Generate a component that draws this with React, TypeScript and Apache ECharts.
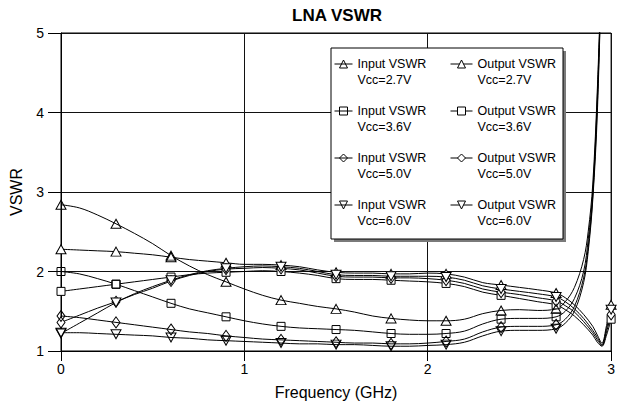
import React, { useEffect, useRef } from "react";
import * as echarts from "echarts";

const TITLE = "LNA VSWR";
const X_NAME = "Frequency (GHz)";
const Y_NAME = "VSWR";

const FREQ_IN = [
  0, 0.1, 0.2, 0.3, 0.4, 0.5, 0.6, 0.7, 0.8, 0.9, 1.0, 1.1, 1.2, 1.3, 1.4, 1.5, 1.6, 1.7, 1.8, 1.9,
  2.0, 2.1, 2.2, 2.3, 2.4, 2.5, 2.6, 2.7, 2.75, 2.8, 2.85, 2.875, 2.9, 2.925, 2.95,
];
const FREQ_OUT = [
  0, 0.1, 0.2, 0.3, 0.4, 0.5, 0.6, 0.7, 0.8, 0.9, 1.0, 1.1, 1.2, 1.3, 1.4, 1.5, 1.6, 1.7, 1.8, 1.9,
  2.0, 2.1, 2.2, 2.3, 2.4, 2.5, 2.6, 2.7, 2.75, 2.8, 2.85, 2.9, 2.925, 2.95, 2.975, 3.0,
];

const IN_27 = [
  2.84, 2.8, 2.71, 2.6, 2.48, 2.35, 2.2, 2.07, 1.96, 1.87, 1.78, 1.7, 1.64, 1.6, 1.56, 1.53, 1.49, 1.44, 1.41, 1.39,
  1.38, 1.38, 1.4, 1.47, 1.51, 1.52, 1.51, 1.53, 1.62, 1.8, 2.15, 2.5, 3.1, 4.3, 6.0,
];
const IN_36 = [
  2.0, 1.97, 1.91, 1.84, 1.76, 1.68, 1.6, 1.53, 1.48, 1.43, 1.38, 1.34, 1.31, 1.29, 1.28, 1.27, 1.26, 1.24, 1.22, 1.21,
  1.21, 1.22, 1.25, 1.34, 1.4, 1.41, 1.41, 1.43, 1.5, 1.66, 2.0, 2.4, 3.0, 4.2, 6.0,
];
const IN_50 = [
  1.44, 1.42, 1.39, 1.36, 1.33, 1.3, 1.27, 1.24, 1.22, 1.19, 1.17, 1.15, 1.14, 1.13, 1.12, 1.11, 1.1, 1.1, 1.09, 1.09,
  1.1, 1.12, 1.15, 1.24, 1.3, 1.31, 1.31, 1.33, 1.4, 1.56, 1.92, 2.3, 2.95, 4.1, 6.0,
];
const IN_60 = [
  1.23, 1.23, 1.22, 1.21, 1.2, 1.19, 1.17, 1.16, 1.14, 1.13, 1.12, 1.11, 1.1, 1.09, 1.09, 1.08, 1.08, 1.07, 1.06, 1.06,
  1.07, 1.08, 1.11, 1.19, 1.25, 1.26, 1.26, 1.28, 1.35, 1.5, 1.86, 2.25, 2.9, 4.0, 6.0,
];

const OUT_27 = [
  2.28, 2.27, 2.26, 2.25, 2.23, 2.21, 2.18, 2.15, 2.13, 2.11, 2.09, 2.09, 2.08, 2.06, 2.02, 1.99, 1.98, 1.98, 1.97, 1.97,
  1.98, 1.97, 1.93, 1.86, 1.83, 1.8, 1.77, 1.73, 1.67, 1.58, 1.46, 1.31, 1.2, 1.1, 1.32, 1.58,
];
const OUT_36 = [
  1.75, 1.78, 1.81, 1.84, 1.87, 1.9, 1.93, 1.96, 1.98, 1.99, 2.0, 2.01, 2.0, 1.98, 1.95, 1.91, 1.9, 1.9, 1.89, 1.88,
  1.87, 1.85, 1.81, 1.74, 1.7, 1.66, 1.62, 1.58, 1.52, 1.44, 1.33, 1.2, 1.11, 1.06, 1.2, 1.4,
];
const OUT_50 = [
  1.36, 1.45, 1.54, 1.62, 1.71, 1.79, 1.88, 1.95, 2.0, 2.03, 2.04, 2.05, 2.04, 2.02, 1.98, 1.94, 1.93, 1.93, 1.92, 1.92,
  1.91, 1.89, 1.85, 1.78, 1.74, 1.71, 1.67, 1.63, 1.57, 1.49, 1.37, 1.23, 1.14, 1.07, 1.24, 1.46,
];
const OUT_60 = [
  1.22, 1.35, 1.48, 1.61, 1.72, 1.81, 1.89, 1.96, 2.01, 2.04, 2.06, 2.07, 2.06, 2.04, 2.0, 1.96, 1.95, 1.95, 1.94, 1.94,
  1.94, 1.93, 1.89, 1.82, 1.78, 1.75, 1.72, 1.68, 1.62, 1.53, 1.41, 1.26, 1.17, 1.08, 1.28, 1.52,
];

const INPUT_NAMES = [
  "Input VSWR\nVcc=2.7V",
  "Input VSWR\nVcc=3.6V",
  "Input VSWR\nVcc=5.0V",
  "Input VSWR\nVcc=6.0V",
];
const OUTPUT_NAMES = [
  "Output VSWR\nVcc=2.7V",
  "Output VSWR\nVcc=3.6V",
  "Output VSWR\nVcc=5.0V",
  "Output VSWR\nVcc=6.0V",
];

const FONT = "'Liberation Sans', Arial, Helvetica, sans-serif";

const SYMBOLS = ["triangle", "rect", "diamond", "triangle"];
const ROTATES = [0, 0, 0, 180];
const SIZES: any[] = [[10, 9], [8, 8], [8, 11], [10, 9]];

function isMarker(f: number) {
  const k = f / 0.3;
  return Math.abs(k - Math.round(k)) < 1e-6;
}

function buildData(freq: number[], vals: number[]) {
  return freq.map((f, i) =>
    isMarker(f) ? [f, vals[i]] : { value: [f, vals[i]], symbol: "none" }
  );
}

export default function App() {
  const ref = useRef<HTMLDivElement>(null);

  useEffect(() => {
    if (!ref.current) return;
    const chart = echarts.init(ref.current, undefined, { renderer: "svg" });

    const inVals = [IN_27, IN_36, IN_50, IN_60];
    const outVals = [OUT_27, OUT_36, OUT_50, OUT_60];

    const series: any[] = [];
    outVals.forEach((vals, i) => {
      series.push({
        name: OUTPUT_NAMES[i],
        type: "line",
        data: buildData(FREQ_OUT, vals),
        smooth: 0.35,
        symbol: SYMBOLS[i],
        symbolRotate: ROTATES[i],
        symbolSize: SIZES[i],
        lineStyle: { color: "#000", width: 1 },
        itemStyle: { color: "#fff", borderColor: "#000", borderWidth: 1 },
        emphasis: { disabled: true },
        z: 3,
      });
    });
    inVals.forEach((vals, i) => {
      series.push({
        name: INPUT_NAMES[i],
        type: "line",
        data: buildData(FREQ_IN, vals),
        smooth: 0.35,
        symbol: SYMBOLS[i],
        symbolRotate: ROTATES[i],
        symbolSize: SIZES[i],
        lineStyle: { color: "#000", width: 1 },
        itemStyle: { color: "rgba(0,0,0,0)", borderColor: "#000", borderWidth: 1 },
        emphasis: { disabled: true },
        z: 3,
      });
    });

    const legendCommon = {
      orient: "vertical",
      top: 40,
      padding: 0,
      itemGap: -1,
      itemHeight: 10,
      selectedMode: false,
      z: 10,
      formatter: (name: string) => "\n" + name,
      textStyle: {
        fontFamily: FONT,
        fontSize: 12.5,
        lineHeight: 16,
        color: "#000",
      },
      lineStyle: { color: "#000", width: 1 },
    };

    chart.setOption({
      animation: false,
      backgroundColor: "#fff",
      title: {
        text: TITLE,
        left: 292,
        top: 7,
        padding: 0,
        textStyle: { fontFamily: FONT, fontSize: 17, fontWeight: "bold", color: "#000" },
      },
      grid: {
        left: 60,
        right: 4,
        top: 33,
        bottom: 57,
        show: true,
        borderColor: "#000",
        borderWidth: 1,
        backgroundColor: "transparent",
      },
      xAxis: {
        type: "value",
        min: 0,
        max: 3,
        interval: 1,
        name: X_NAME,
        nameLocation: "middle",
        nameGap: 33,
        nameTextStyle: { fontFamily: FONT, fontSize: 16, color: "#000" },
        axisLine: { show: true, lineStyle: { color: "#000", width: 1 } },
        axisTick: { show: true, length: 10, lineStyle: { color: "#000" } },
        axisLabel: { fontFamily: FONT, fontSize: 14, color: "#000", margin: 11 },
        splitLine: { show: true, lineStyle: { color: "#111", width: 1 } },
      },
      yAxis: {
        type: "value",
        min: 1,
        max: 5,
        interval: 1,
        name: Y_NAME,
        nameLocation: "middle",
        nameGap: 37,
        nameTextStyle: { fontFamily: FONT, fontSize: 16, color: "#000" },
        axisLine: { show: true, lineStyle: { color: "#000", width: 1 } },
        axisTick: { show: true, length: 13, lineStyle: { color: "#000" } },
        axisLabel: { fontFamily: FONT, fontSize: 14, color: "#000", margin: 17 },
        splitLine: { show: true, lineStyle: { color: "#111", width: 1 } },
      },
      legend: [
        {
          ...legendCommon,
          left: 334,
          itemWidth: 18,
          data: INPUT_NAMES,
          itemStyle: { color: "rgba(0,0,0,0)", borderColor: "#000", borderWidth: 1 },
        },
        {
          ...legendCommon,
          left: 450,
          itemWidth: 22,
          data: OUTPUT_NAMES,
          itemStyle: { color: "#fff", borderColor: "#000", borderWidth: 1 },
        },
      ],
      graphic: [
        {
          type: "rect",
          z: 5,
          shape: { x: 334, y: 51, width: 232, height: 191 },
          style: { fill: "#7a7a7a" },
          silent: true,
        },
        {
          type: "rect",
          z: 6,
          shape: { x: 331, y: 48, width: 232, height: 191 },
          style: { fill: "#fff", stroke: "#000", lineWidth: 1 },
          silent: true,
        },
      ],
      series,
    });

    return () => {
      chart.dispose();
    };
  }, []);

  return (
    <div
      ref={ref}
      style={{ position: "absolute", left: 0, top: 0, width: 618, height: 408 }}
    />
  );
}
